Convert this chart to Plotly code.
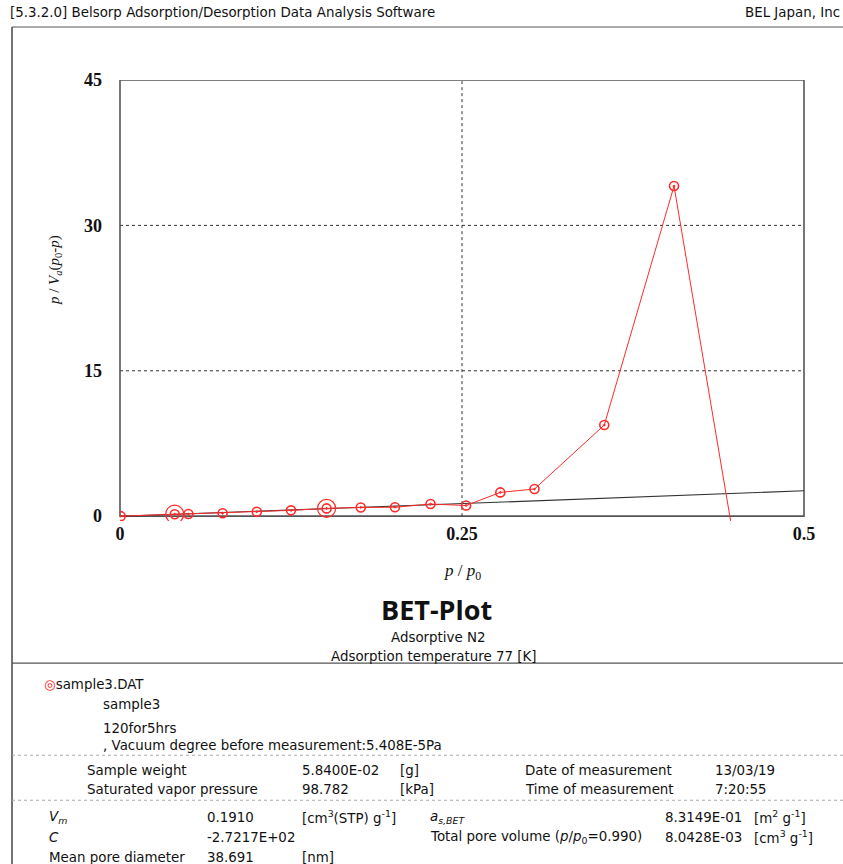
import plotly.graph_objects as go

# ---- data ----
p_rel = [0.0005, 0.040, 0.050, 0.075, 0.100, 0.125, 0.151, 0.176, 0.201, 0.227, 0.253,
         0.278, 0.303, 0.354, 0.405, 0.455]
bet_y = [0.0, 0.2, 0.22, 0.3, 0.45, 0.6, 0.8, 0.9, 0.92, 1.25, 1.1,
         2.45, 2.8, 9.4, 34.06, -7.7]
sel_x = [0.040, 0.151]
sel_y = [0.2, 0.8]
fit_x = [0.0, 0.5]
fit_y = [-0.02, 2.62]
x_ticks = [0, 0.25, 0.5]
x_ticklabels = ["0", "0.25", "0.5"]
y_ticks = [0, 15, 30, 45]
y_ticklabels = ["0", "15", "30", "45"]

W, H = 843, 864
L, R, T, B = 120, 804, 80, 516  # plot area in pixels

def px(x):
    return (x - L) / (R - L)

RED = "#ff2a2a"
SANS = "DejaVu Sans"
SERIF = "Liberation Serif"
FS = 13.4

fig = go.Figure()
fig.add_trace(go.Scatter(x=fit_x, y=fit_y, mode="lines",
                         line=dict(color="#333333", width=1.1), showlegend=False))
fig.add_trace(go.Scatter(x=p_rel, y=bet_y, mode="lines+markers",
                         line=dict(color=RED, width=1),
                         marker=dict(symbol="circle-open-dot", size=9, color=RED,
                                     line=dict(width=1.6, color=RED)),
                         showlegend=False))
fig.add_trace(go.Scatter(x=sel_x, y=sel_y, mode="markers",
                         marker=dict(symbol="circle-open", size=18, color=RED,
                                     line=dict(width=1.2, color=RED)),
                         showlegend=False))

ymin = -0.5
scale = (B - T) / 45.0
bottom_px = B + (-ymin) * scale
fig.update_layout(
    width=W, height=H,
    margin=dict(l=L, r=W - R, t=T, b=H - bottom_px),
    paper_bgcolor="white", plot_bgcolor="white",
    xaxis=dict(range=[0, 0.5], tickvals=x_ticks, ticktext=["<b>%s</b>" % t for t in x_ticklabels],
               showline=False, zeroline=False, showgrid=False, ticks="",
               tickfont=dict(family=SERIF, size=18, color="#111111"),
               ticklabelstandoff=0, fixedrange=True),
    yaxis=dict(range=[ymin, 45], tickvals=y_ticks, ticktext=["<b>%s</b>" % t for t in y_ticklabels],
               showline=False, zeroline=False, showgrid=False, ticks="",
               tickfont=dict(family=SERIF, size=18, color="#111111"),
               ticklabelstandoff=17, fixedrange=True),
)

shapes = []
for gy in [15, 30]:
    shapes.append(dict(type="line", xref="paper", yref="y", x0=0, x1=1, y0=gy, y1=gy,
                       line=dict(color="#333333", width=1, dash="dot"), layer="below"))
shapes.append(dict(type="line", xref="x", yref="y", x0=0.25, x1=0.25, y0=0, y1=45,
                   line=dict(color="#333333", width=1, dash="dot"), layer="below"))
shapes.append(dict(type="rect", xref="paper", yref="y", x0=0, x1=1, y0=0, y1=45,
                   line=dict(color="#555555", width=1.6), layer="below"))

def pyp(y):
    return (bottom_px - y) / (bottom_px - T)

def hline(y, dash=None, color="#555555", width=1.2, x0=12, x1=843):
    shapes.append(dict(type="line", xref="paper", yref="paper",
                       x0=px(x0), x1=px(x1), y0=pyp(y), y1=pyp(y),
                       line=dict(color=color, width=width, dash=dash)))

shapes.append(dict(type="line", xref="paper", yref="paper", x0=px(12), x1=px(12),
                   y0=pyp(27), y1=pyp(864), line=dict(color="#444444", width=1.5)))
hline(27)
hline(663)
hline(755, dash="dot", color="#aaaaaa", width=1)
hline(800, dash="dot", color="#aaaaaa", width=1)
fig.update_layout(shapes=shapes)

ann = []
def text(x, y, s, size=FS, anchor="left", family=SANS, color="#111111", **kw):
    ann.append(dict(x=px(x), y=pyp(y), xref="paper", yref="paper", text=s,
                    showarrow=False, xanchor=anchor, yanchor="middle",
                    font=dict(family=family, size=size, color=color), **kw))

text(8, 13, "[5.3.2.0] Belsorp Adsorption/Desorption Data Analysis Software")
text(842, 13, "BEL Japan, Inc", anchor="right")

text(462, 572, "<i>p</i> / <i>p</i><sub>0</sub>", size=17, anchor="center", family=SERIF)
text(55, 270, "<i>p</i> / <i>V</i><sub><i>a</i></sub>(<i>p</i><sub>0</sub>-<i>p</i>)",
     size=15, anchor="center", family=SERIF, textangle=-90)

text(436, 609, "<b>BET-Plot</b>", size=27, anchor="center", family="Open Sans")
text(438, 637, "Adsorptive N2", anchor="center")
text(433, 656, "Adsorption temperature 77 [K]", anchor="center")

text(42, 684, "<span style='color:#ff2a2a'>◎</span>sample3.DAT")
text(101, 704, "sample3")
ann.append(dict(x=px(101), y=pyp(737), xref="paper", yref="paper",
                text="120for5hrs<br>, Vacuum degree before measurement:5.408E-5Pa",
                showarrow=False, xanchor="left", yanchor="middle", align="left",
                font=dict(family=SANS, size=FS, color="#111111")))

text(85, 770, "Sample weight")
text(300, 770, "5.8400E-02")
text(398, 770, "[g]")
text(523, 770, "Date of measurement")
text(713, 770, "13/03/19")
text(85, 789, "Saturated vapor pressure")
text(300, 789, "98.782")
text(398, 789, "[kPa]")
text(523, 789, "Time of measurement")
text(713, 789, "7:20:55")

text(47, 817, "<i>V<sub>m</sub></i>")
text(205, 817, "0.1910")
text(300, 817, "[cm<sup>3</sup>(STP) g<sup>-1</sup>]")
text(428, 817, "<i>a<sub>s,BET</sub></i>")
text(663, 817, "8.3149E-01")
text(752, 817, "[m<sup>2</sup> g<sup>-1</sup>]")
text(47, 837, "<i>C</i>")
text(205, 837, "-2.7217E+02")
text(428, 837, "Total pore volume (<i>p</i>/<i>p</i><sub>0</sub>=0.990)")
text(663, 837, "8.0428E-03")
text(752, 837, "[cm<sup>3</sup> g<sup>-1</sup>]")
text(47, 857, "Mean pore diameter")
text(205, 857, "38.691")
text(300, 857, "[nm]")

fig.update_layout(annotations=ann)
fig.write_html("out.html")
